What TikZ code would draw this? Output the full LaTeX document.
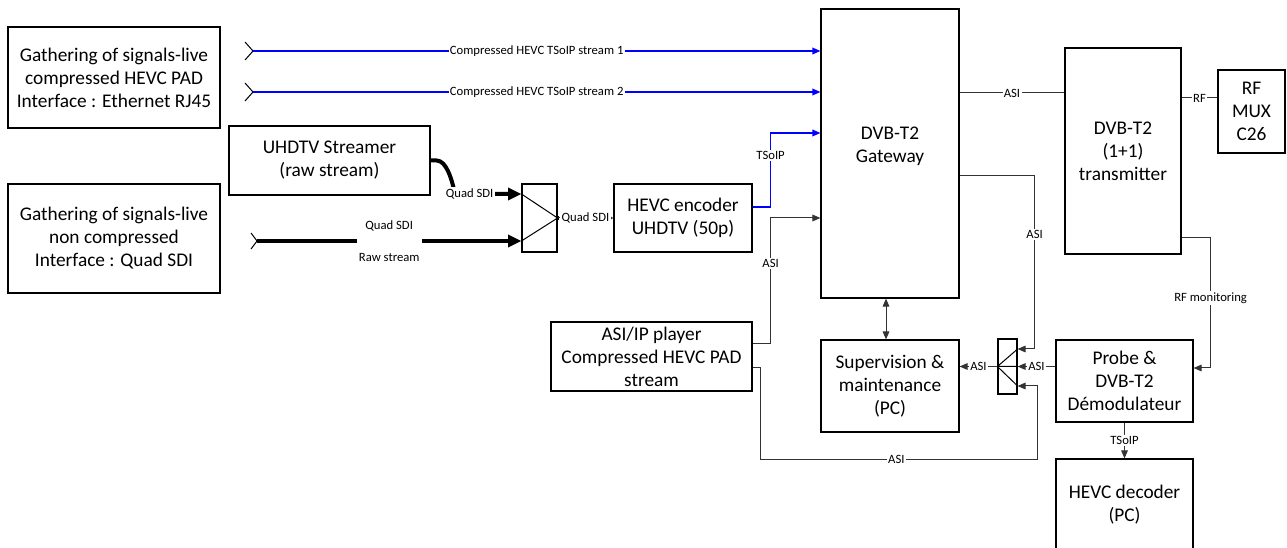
\documentclass[tikz,border=0pt]{standalone}
\usepackage{fontspec}
\setmainfont{Carlito}
\usetikzlibrary{arrows.meta,calc}
\newcommand\bigtxt{\fontsize{14.5}{17.3}\selectfont}
\newcommand\smalltxt{\fontsize{9.5}{11.4}\selectfont}
\begin{document}
\begin{tikzpicture}[x=0.75pt,y=-0.75pt,
  box/.style={draw=black, line width=0.9pt, align=center, inner sep=0pt, font=\bigtxt},
  wh/.style 2 args={minimum width=#1*0.75pt, minimum height=#2*0.75pt},
  link/.style={draw=black!80, line width=0.75pt},
  blueline/.style={draw=blue, line width=0.9pt},
  heavy/.style={draw=black, line width=3pt},
  chev/.style={draw=black, line width=0.75pt},
  tip/.style={-{Triangle[length=6pt,width=5pt]}},
  tinytip/.style={-{Triangle[length=3pt,width=3pt]}},
  bigtip/.style={-{Triangle[length=10pt,width=9pt]}},
  lab/.style={font=\smalltxt, fill=white, inner sep=1pt},
]
\useasboundingbox (0,0) rectangle (1287,548);

% ---------- equipment ----------
\node[box, wh={212}{101}] (gcomp) at (114,77.5) {Gathering of signals-live\\compressed HEVC PAD\\Interface : Ethernet RJ45};
\node[box, wh={212}{109}] (graw) at (114,238.5) {Gathering of signals-live\\non compressed\\Interface : Quad SDI};
\node[box, wh={201}{69}] (streamer) at (329.5,160.5) {UHDTV Streamer\\(raw stream)};
\node[box, wh={35}{68}] (split1) at (539.5,218) {};
\node[box, wh={138}{68}] (enc) at (683,218) {HEVC encoder\\UHDTV (50p)};
\node[box, wh={138}{289}] (gw) at (890,153.5) {};
\node[font=\bigtxt, align=center, inner sep=0pt] (gwtext) at (890,146) {DVB-T2\\Gateway};
\node[box, wh={201}{69}] (player) at (651.5,356.5) {ASI/IP player\\Compressed HEVC PAD\\stream};
\node[box, wh={138}{92}] (sup) at (890,386) {Supervision \&\\maintenance\\(PC)};
\node[box, wh={19}{55}] (split2) at (1007.5,366.5) {};
\node[box, wh={137}{82}] (probe) at (1124.5,381) {Probe \&\\DVB-T2\\Démodulateur};
\node[box, wh={137}{92}] (dec) at (1124.5,505) {HEVC decoder\\(PC)};
\node[box, wh={116}{206}] (trans) at (1123,151) {DVB-T2\\(1+1)\\transmitter};
\node[box, wh={67}{83}] (mux) at (1251.5,111.5) {RF\\MUX\\C26};

% ---------- free input ends ----------
\coordinate (s1) at (253,51);
\coordinate (s2) at (253,92);
\coordinate (q) at (257,241);
\foreach \c in {s1,s2}{\draw[chev] (\c) ++(-8,-9) -- (\c) -- ++(-8,9);}
\draw[chev] (q) ++(-6,-8) -- (q) -- ++(-6,8);

% ---------- splitter ports ----------
\coordinate (sp1a) at ($(split1.west)+(0,-24)$);
\coordinate (sp1b) at ($(split1.west)+(0,23)$);
\draw[link, draw=black] (sp1a) -- (split1.east) -- (sp1b);
\fill (split1.east) ++(-1.5,-2) rectangle ++(3,4);

\coordinate (sp2a) at ($(split2.east)+(0,-17.5)$);
\coordinate (sp2b) at (split2.east);
\coordinate (sp2c) at ($(split2.east)+(0,19.5)$);
\draw[link, draw=black] (sp2a) -- (split2.west) -- (sp2c) (split2.west) -- (sp2b);

% ---------- compressed TSoIP inputs ----------
\draw[blueline, tip] (s1) -- node[lab]{Compressed HEVC TSoIP stream 1} (gw.west |- s1);
\draw[blueline, tip] (s2) -- node[lab]{Compressed HEVC TSoIP stream 2} (gw.west |- s2);

% ---------- quad SDI feeds ----------
\draw[heavy, bigtip] (q) -- node[pos=0.5, fill=white, inner sep=0pt, minimum width=65*0.75pt, minimum height=7pt] (gap) {} (sp1b);
\node[font=\smalltxt] (gapup) at ($(gap)+(0,-15)$) {Quad SDI};
\node[font=\smalltxt] (gapdn) at ($(gap)+(0,16)$) {Raw stream};
\draw[heavy, bigtip] (streamer.east) -- ++(6,0) .. controls +(10,0) and +(-3,-14) .. (455,194)
  -- node[lab, pos=0.22]{Quad SDI} (sp1a);

\draw[link, tinytip] (split1.east) -- node[lab]{Quad SDI} (enc.west);

% ---------- into the gateway ----------
\draw[blueline, tip] ($(enc.east)+(0,-11)$) -- ++(18,0) |- node[lab, pos=0.35]{TSoIP} ($(gw.west)+(0,-20.5)$);
\draw[link, tip] ($(player.east)+(0,-12.5)$) -- ++(18,0) |- node[lab, pos=0.32]{ASI} ($(gw.west)+(0,64.5)$);

% ---------- transmission chain ----------
\draw[link] (gw.east |- 0,93) -- node[lab]{ASI} (trans.west |- 0,93);
\draw[link] (trans.east |- 0,98) -- node[lab]{RF} (mux.west |- 0,98);

% ---------- monitoring ----------
\draw[link, tip] (gw.east |- 0,176) -| node[lab, pos=0.67]{ASI} ($(sp2a)+(17,0)$) -- (sp2a);
\draw[link, tip] (probe.west |- sp2b) -- node[lab]{ASI} (sp2b);
\draw[link, tip] ($(player.east)+(0,11.5)$) -- ++(8,0) |- node[lab, pos=0.745]{ASI} ($(sp2c)+(20,73)$) |- (sp2c);
\draw[link, tip] (split2.west) -- node[lab]{ASI} (sup.east |- split2.west);
\draw[link, {Triangle[length=6pt,width=5pt]}-{Triangle[length=6pt,width=5pt]}] ($(gw.south)+(-4,0)$) -- ($(sup.north)+(-4,0)$);
\draw[link, tip] (trans.east |- 0,238) -| node[lab, pos=0.73]{RF monitoring} ($(probe.east)+(17,-13)$) -- ($(probe.east)+(0,-13)$);
\draw[link, tip] (probe.south) -- node[lab]{TSoIP} (dec.north);
\end{tikzpicture}
\end{document}
